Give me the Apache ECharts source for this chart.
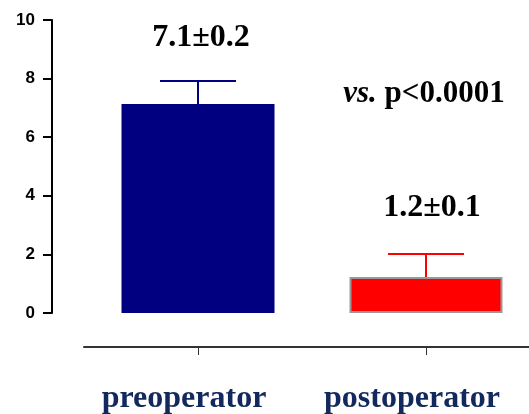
<!DOCTYPE html>
<html>
<head>
<meta charset="utf-8">
<script src="https://cdn.jsdelivr.net/npm/echarts@6/dist/echarts.min.js"></script>
<style>
  html, body { margin: 0; padding: 0; background: #fff; }
  #chart { width: 529px; height: 414px; }
</style>
</head>
<body>
<div id="chart"></div>
<script>
// data
const categories = ['preoperator', 'postoperator']
const means = [7.13, 1.23]
const errTops = [7.92, 2.01]
const barColors = ['#000080', '#ff0000']
const meanLabels = ['7.1±0.2', '1.2±0.1']

const chart = echarts.init(document.getElementById('chart'))
const serif = '"Liberation Serif", "Times New Roman", serif'

const errData = categories.map((c, i) => [i, errTops[i], means[i]])

chart.setOption({
  animation: false,
  grid: { left: 84, width: 456, top: 20, bottom: 101, outerBoundsMode: 'none', containLabel: false },
  xAxis: {
    type: 'category',
    data: categories,
    offset: 34,
    axisLine: { onZero: false, lineStyle: { color: '#333', width: 2 } },
    axisTick: { show: true, interval: 0, alignWithLabel: true, length: 8, lineStyle: { color: '#333', width: 1 } },
    axisLabel: {
      interval: 0,
      hideOverlap: false,
      margin: 36,
      padding: [0, 28, 0, 0],
      fontFamily: serif,
      fontWeight: 'bold',
      fontSize: 32,
      color: '#13295e'
    }
  },
  yAxis: {
    type: 'value',
    min: 0,
    max: 10,
    interval: 2,
    offset: 32,
    splitLine: { show: false },
    axisLine: { show: true, lineStyle: { color: '#000', width: 2 } },
    axisTick: { show: true, length: 9, lineStyle: { color: '#000', width: 2 } },
    axisLabel: {
      margin: 17,
      fontFamily: '"Liberation Sans", Arial, sans-serif',
      fontWeight: 'bold',
      fontSize: 17,
      color: '#000'
    }
  },
  series: [
    {
      type: 'bar',
      barWidth: 153,
      data: means.map((v, i) => ({
        value: v,
        itemStyle: {
          color: barColors[i],
          borderColor: i === 1 ? '#999' : barColors[i],
          borderWidth: i === 1 ? 2 : 0
        }
      }))
    },
    {
      type: 'custom',
      data: errData,
      z: 3,
      renderItem (params, api) {
        const top = api.coord([api.value(0), api.value(1)])
        const base = api.coord([api.value(0), api.value(2)])
        const color = barColors[params.dataIndex]
        const style = { stroke: color, lineWidth: 2 }
        return {
          type: 'group',
          children: [
            { type: 'line', shape: { x1: top[0], y1: top[1], x2: base[0], y2: base[1] }, style },
            { type: 'line', shape: { x1: top[0] - 38, y1: top[1], x2: top[0] + 38, y2: top[1] }, style }
          ]
        }
      }
    }
  ],
  graphic: [
    {
      type: 'text', x: 201, y: 38,
      style: { text: meanLabels[0], font: 'bold 32px ' + serif, fill: '#000', align: 'center', verticalAlign: 'middle' }
    },
    {
      type: 'text', x: 432, y: 208,
      style: { text: meanLabels[1], font: 'bold 32px ' + serif, fill: '#000', align: 'center', verticalAlign: 'middle' }
    },
    {
      type: 'text', x: 424, y: 94,
      style: {
        text: '{i|vs.} p<0.0001',
        font: 'bold 31px ' + serif,
        fill: '#000',
        align: 'center',
        verticalAlign: 'middle',
        rich: {
          i: { fontFamily: serif, fontWeight: 'bold', fontStyle: 'italic', fontSize: 31 }
        }
      }
    }
  ]
})
</script>
</body>
</html>
